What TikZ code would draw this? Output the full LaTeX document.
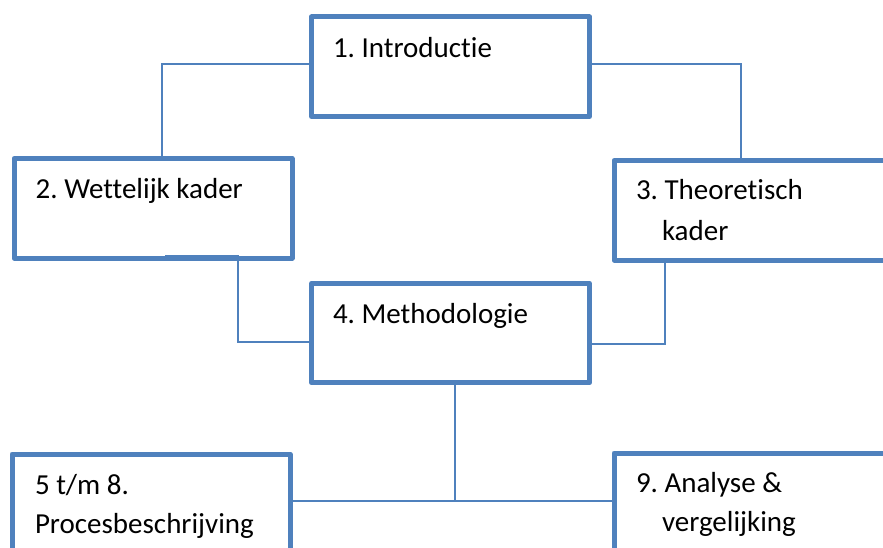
\documentclass[tikz,border=0pt]{standalone}
\usepackage{fontspec}
\setmainfont[Ligatures=NoCommon]{Carlito}
\definecolor{boxblue}{HTML}{4F81BD}
\frenchspacing
\begin{document}
\begin{tikzpicture}[x=1pt,y=-1pt,
  box/.style={draw=boxblue,line width=5pt,line join=round,fill=white,rectangle,
    minimum width=278pt,minimum height=99.5pt,inner sep=0pt,outer sep=0pt},
  conn/.style={draw=boxblue,line width=1.8pt},
  lbl/.style={anchor=base west,inner sep=0pt,outer sep=0pt,
    font=\fontsize{29}{35}\selectfont,text=black}]
\useasboundingbox (0,0) rectangle (883,548);
\clip (0,0) rectangle (883,548);
% boxes
\node[box] (b1) at (450.5,66.75) {};
\node[box] (b2) at (153,208.25) {};
\node[box] (b3) at (753,210.25) {};
\node[box] (b4) at (450.5,333.1) {};
\node[box] (b5) at (151,503.75) {};
\node[box] (b9) at (753,502.75) {};
\coordinate (c2) at (165,255.5);
% connectors
\draw[conn] (b1.west |- 0,64.3) -| (b2.north -| 162.3,0);
\draw[conn] (b1.east |- 0,64.3) -| (b3.north -| 740.7,0);
\draw[conn] (c2) -| (237.7,341.7) -- (b4.west |- 0,341.7);
\draw[conn] (b3.south -| 664.7,0) |- (b4.east |- 0,343.7);
\draw[conn] (b4.south -| 454.7,0) -- (454.7,501.3);
\draw[conn] (b5.east |- 0,501.3) -- (b9.west |- 0,501.3);
% labels
\node[lbl] (t1) at (333,57.3) {1. Introductie};
\node[lbl] (t2) at (35.7,199) {2. Wettelijk kader};
\node[lbl] (t3a) at (636,200) {3. Theoretisch};
\node[lbl] (t3b) at (662,240.7) {kader};
\node[lbl] (t4) at (333,323) {4. Methodologie};
\node[lbl] (t5a) at (35,494) {5 t/m 8.};
\node[lbl] (t5b) at (35,533) {Procesbeschrijving};
\node[lbl] (t9a) at (636,492) {9. Analyse \&};
\node[lbl] (t9b) at (662,531) {vergelijking};
\end{tikzpicture}
\end{document}
